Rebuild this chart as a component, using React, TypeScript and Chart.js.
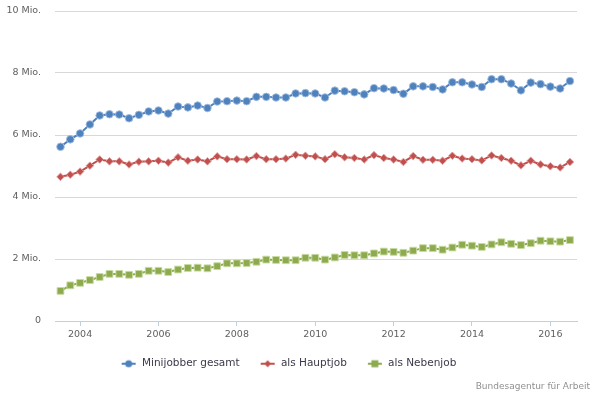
import React, { useEffect, useRef } from "react";
import { Chart, registerables } from "chart.js";

Chart.register(...registerables);

const quarters: string[] = [
  "06/2003", "09/2003", "12/2003", "03/2004", "06/2004", "09/2004", "12/2004",
  "03/2005", "06/2005", "09/2005", "12/2005", "03/2006", "06/2006", "09/2006", "12/2006",
  "03/2007", "06/2007", "09/2007", "12/2007", "03/2008", "06/2008", "09/2008", "12/2008",
  "03/2009", "06/2009", "09/2009", "12/2009", "03/2010", "06/2010", "09/2010", "12/2010",
  "03/2011", "06/2011", "09/2011", "12/2011", "03/2012", "06/2012", "09/2012", "12/2012",
  "03/2013", "06/2013", "09/2013", "12/2013", "03/2014", "06/2014", "09/2014", "12/2014",
  "03/2015", "06/2015", "09/2015", "12/2015", "03/2016", "06/2016",
];

const gesamt: number[] = [
  5.62, 5.86, 6.05, 6.34, 6.63, 6.67, 6.66, 6.54, 6.65, 6.76, 6.79, 6.69, 6.92, 6.89, 6.95,
  6.87, 7.08, 7.09, 7.11, 7.09, 7.23, 7.23, 7.21, 7.21, 7.34, 7.35, 7.34, 7.21, 7.43, 7.41,
  7.38, 7.31, 7.51, 7.5, 7.45, 7.33, 7.57, 7.57, 7.55, 7.47, 7.7, 7.7, 7.63, 7.55, 7.8, 7.8,
  7.66, 7.44, 7.69, 7.64, 7.56, 7.5, 7.74,
];

const hauptjob: number[] = [
  4.65, 4.72, 4.82, 5.01, 5.21, 5.15, 5.15, 5.05, 5.14, 5.15, 5.17, 5.11, 5.28, 5.17, 5.21,
  5.15, 5.31, 5.22, 5.22, 5.21, 5.32, 5.22, 5.22, 5.24, 5.36, 5.33, 5.31, 5.22, 5.38, 5.28,
  5.26, 5.21, 5.35, 5.26, 5.21, 5.13, 5.32, 5.2, 5.2, 5.17, 5.33, 5.24, 5.22, 5.18, 5.34,
  5.26, 5.17, 5.02, 5.17, 5.05, 4.99, 4.95, 5.13,
];

const nebenjob: number[] = [
  0.97, 1.15, 1.23, 1.32, 1.42, 1.52, 1.52, 1.49, 1.52, 1.62, 1.62, 1.58, 1.66, 1.71, 1.72,
  1.7, 1.77, 1.86, 1.86, 1.87, 1.91, 1.98, 1.97, 1.96, 1.96, 2.04, 2.04, 1.98, 2.05, 2.13,
  2.12, 2.12, 2.18, 2.24, 2.23, 2.2, 2.27, 2.35, 2.35, 2.3, 2.37, 2.46, 2.43, 2.39, 2.47,
  2.54, 2.49, 2.45, 2.51, 2.59, 2.57, 2.56, 2.61,
];

const seriesNames: string[] = ["Minijobber gesamt", "als Hauptjob", "als Nebenjob"];
const xTickYears: number[] = [2004, 2006, 2008, 2010, 2012, 2014, 2016];
const yTicks: number[] = [0, 2, 4, 6, 8, 10];
const creditText = "Bundesagentur für Arbeit";

const COLORS = ["#4F81BD", "#C0504D", "#8DAA4F"];
const HALOS = ["rgba(160,190,225,0.9)", "rgba(225,160,158,0.9)", "rgba(200,220,160,0.9)"];
const STYLES: ("circle" | "rectRot" | "rect")[] = ["circle", "rectRot", "rect"];
const RADII = [3.8, 3.8, 4.8];

const FONT = "'DejaVu Sans', Verdana, sans-serif";

function quarterToX(q: string): number {
  const [m, y] = q.split("/").map(Number);
  return y + m / 12;
}

function makeIcon(color: string, style: string): HTMLCanvasElement {
  const c = document.createElement("canvas");
  c.width = 16;
  c.height = 10;
  const ctx = c.getContext("2d")!;
  ctx.strokeStyle = color;
  ctx.lineWidth = 2;
  ctx.beginPath();
  ctx.moveTo(1, 5);
  ctx.lineTo(15, 5);
  ctx.stroke();
  ctx.fillStyle = color;
  ctx.beginPath();
  if (style === "circle") {
    ctx.arc(8, 5, 3.5, 0, Math.PI * 2);
  } else if (style === "rectRot") {
    ctx.moveTo(8, 1.5);
    ctx.lineTo(11.5, 5);
    ctx.lineTo(8, 8.5);
    ctx.lineTo(4.5, 5);
    ctx.closePath();
  } else {
    ctx.rect(4.5, 1.5, 7, 7);
  }
  ctx.fill();
  return c;
}

const creditsPlugin = {
  id: "credits",
  afterDraw(chart: any) {
    const ctx = chart.ctx;
    ctx.save();
    ctx.font = `9px ${FONT}`;
    ctx.fillStyle = "#909090";
    ctx.textAlign = "right";
    ctx.textBaseline = "middle";
    ctx.fillText(creditText, 590, 387);
    ctx.restore();
  },
};

export default function App() {
  const ref = useRef<HTMLCanvasElement | null>(null);

  useEffect(() => {
    if (!ref.current) return;
    const xs = quarters.map(quarterToX);
    const seriesValues = [gesamt, hauptjob, nebenjob];
    const icons = COLORS.map((c, i) => makeIcon(c, STYLES[i]));

    const chart = new Chart(ref.current, {
      type: "line",
      data: {
        datasets: seriesValues.map((vals, i) => ({
          label: seriesNames[i],
          data: vals.map((v, j) => ({ x: xs[j], y: v })),
          borderColor: COLORS[i],
          backgroundColor: COLORS[i],
          borderWidth: 2,
          pointStyle: STYLES[i],
          pointRadius: RADII[i],
          pointBackgroundColor: COLORS[i],
          pointBorderColor: HALOS[i],
          pointBorderWidth: 1,
          tension: 0,
        })),
      },
      options: {
        animation: false,
        responsive: false,
        layout: { padding: { top: 11, right: 23, left: 0, bottom: 18 } },
        scales: {
          x: {
            type: "linear",
            min: 2003.36,
            max: 2016.68,
            afterBuildTicks: (scale: any) => {
              scale.ticks = xTickYears.map((v) => ({ value: v }));
            },
            afterFit: (scale: any) => {
              scale.height = 17.5;
              scale.paddingLeft = 0;
              scale.paddingRight = 0;
            },
            border: { display: true, color: "#C0D0E0", width: 1 },
            grid: {
              drawOnChartArea: false,
              drawTicks: true,
              tickLength: 5,
              tickColor: "#C0D0E0",
            },
            ticks: {
              color: "#606060",
              font: { family: FONT, size: 9.5 },
              padding: 3,
              maxRotation: 0,
              callback: (v: any) => String(v),
            },
          },
          y: {
            min: 0,
            max: 10,
            afterBuildTicks: (scale: any) => {
              scale.ticks = yTicks.map((v) => ({ value: v }));
            },
            afterFit: (scale: any) => {
              scale.width = 55;
              scale.paddingTop = 0;
              scale.paddingBottom = 0;
            },
            border: { display: false },
            grid: {
              color: "#D8D8D8",
              lineWidth: 1,
              drawTicks: false,
            },
            ticks: {
              color: "#606060",
              font: { family: FONT, size: 9.5 },
              padding: 14,
              callback: (v: any) => (Number(v) === 0 ? "0" : `${v} Mio.`),
            },
          },
        },
        plugins: {
          legend: {
            position: "bottom",
            labels: {
              usePointStyle: true,
              pointStyleWidth: 16,
              padding: 20,
              color: "#3A3A4A",
              font: { family: FONT, size: 10.5 },
              generateLabels: (ch: any) => {
                const items = Chart.defaults.plugins.legend.labels.generateLabels(ch);
                return items.map((it: any, i: number) => ({
                  ...it,
                  pointStyle: icons[i],
                  lineWidth: 0,
                }));
              },
            },
          },
          tooltip: { enabled: false },
        },
      },
      plugins: [creditsPlugin],
    } as any);

    return () => chart.destroy();
  }, []);

  return (
    <div style={{ position: "absolute", left: 0, top: 0, width: 600, height: 397, background: "#fff" }}>
      <canvas ref={ref} width={600} height={397} />
    </div>
  );
}
